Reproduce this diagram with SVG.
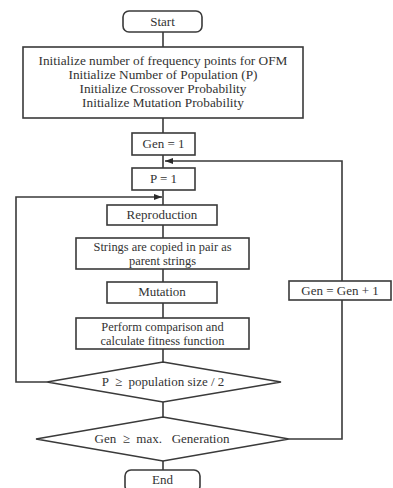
<svg xmlns="http://www.w3.org/2000/svg" width="393" height="488" viewBox="0 0 393 488">
<defs>
<style>
.box{fill:#fff;stroke:#3a3a3a;stroke-width:1.6}
.ln{fill:none;stroke:#3a3a3a;stroke-width:1.6}
text{font-family:"Liberation Serif","Times New Roman",serif;font-size:13px;fill:#333;text-anchor:middle;white-space:pre}
.big{font-size:13.3px}
.two{font-size:12.4px}
</style>
<marker id="ah" markerWidth="8" markerHeight="6" refX="8" refY="3" orient="auto" markerUnits="userSpaceOnUse">
<path d="M0,0 L8,3 L0,6 Z" fill="#2a2a2a"/>
</marker>
</defs>
<rect width="393" height="488" fill="#fff"/>
<g id="connectors">
<line class="ln" x1="163" y1="32" x2="163" y2="47"/>
<line class="ln" x1="163" y1="118" x2="163" y2="133"/>
<line class="ln" x1="163" y1="155" x2="163" y2="168"/>
<line class="ln" x1="163" y1="190" x2="163" y2="205"/>
<line class="ln" x1="163" y1="225" x2="163" y2="238"/>
<line class="ln" x1="163" y1="269" x2="163" y2="282"/>
<line class="ln" x1="163" y1="303" x2="163" y2="318"/>
<line class="ln" x1="163" y1="349" x2="163" y2="362"/>
<line class="ln" x1="163" y1="402" x2="163" y2="417"/>
<line class="ln" x1="163" y1="461" x2="163" y2="470"/>
<polyline class="ln" points="47,382 16,382 16,197 162,197" marker-end="url(#ah)"/>
<polyline class="ln" points="289,439 342,439 342,161 165,161" marker-end="url(#ah)"/>
</g>
<g id="start"><rect class="box" x="123" y="11" width="79" height="21" rx="6"/><text x="162.5" y="26">Start</text></g>
<g id="init"><rect class="box" x="23" y="47" width="280" height="71"/>
<text class="big" x="163" y="65">Initialize number of frequency points for OFM</text>
<text class="big" x="163" y="79">Initialize Number of Population (P)</text>
<text class="big" x="163" y="93">Initialize Crossover Probability</text>
<text class="big" x="163" y="107">Initialize Mutation Probability</text></g>
<g id="gen1"><rect class="box" x="132" y="133" width="63" height="22"/><text x="163.5" y="148">Gen = 1</text></g>
<g id="p1"><rect class="box" x="132" y="168" width="63" height="22"/><text x="163.5" y="183">P = 1</text></g>
<g id="reproduction"><rect class="box" x="107" y="205" width="110" height="20"/><text x="162" y="219">Reproduction</text></g>
<g id="strings"><rect class="box" x="76" y="238" width="173" height="31"/>
<text class="two" x="162.5" y="250.5">Strings are copied in pair as</text>
<text class="two" x="162.5" y="264.5">parent strings</text></g>
<g id="mutation"><rect class="box" x="107" y="282" width="110" height="21"/><text x="162" y="296">Mutation</text></g>
<g id="perform"><rect class="box" x="76" y="318" width="173" height="31"/>
<text class="two" x="162.5" y="330.5">Perform comparison and</text>
<text class="two" x="162.5" y="344.5">calculate fitness function</text></g>
<g id="gen-inc"><rect class="box" x="289" y="281" width="102" height="19"/><text x="340" y="295">Gen = Gen + 1</text></g>
<g id="cond-p"><polygon class="box" points="163,362 281,382 163,402 47,382"/><text x="163" y="386">P  ≥  population size / 2</text></g>
<g id="cond-gen"><polygon class="box" points="163,417 289,439 163,461 36,439"/><text x="162" y="443">Gen  ≥  max.   Generation</text></g>
<g id="end"><rect class="box" x="125" y="470" width="75" height="22" rx="6"/><text x="162.5" y="484">End</text></g>
</svg>
